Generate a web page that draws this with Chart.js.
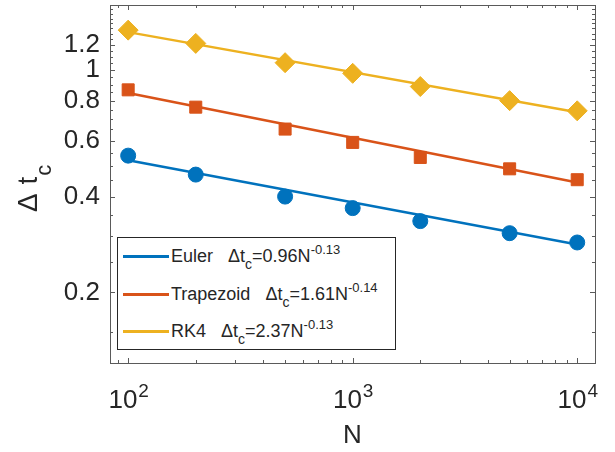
<!DOCTYPE html>
<html lang="en">
<head>
<meta charset="UTF-8">
<title>Delta t_c vs N</title>
<script src="https://cdn.jsdelivr.net/npm/chart.js"></script>
<style>
  body { margin: 0; background: #fff; font-family: "Liberation Sans", Arial, sans-serif; }
  #wrap { position: relative; width: 615px; height: 452px; }
  #chart { display: block; }
  #legend { position: absolute; left: 117px; top: 237px; width: 279px; height: 113px; border: 1px solid #262626; background: #fff; box-sizing: border-box; }
  .row { position: absolute; left: 0; height: 20px; display: flex; align-items: center; font-size: 18px; color: #262626; white-space: pre; }
  .swatch { display: inline-block; width: 46px; height: 3px; margin-left: 5px; margin-right: 2px; }
  .fit { margin-left: 6px; }
  .sub { font-size: 14px; position: relative; top: 7px; }
  .sup { font-size: 13px; position: relative; top: -8px; }
</style>
</head>
<body>
<div id="wrap">
  <canvas id="chart" width="615" height="452"></canvas>
  <div id="legend"></div>
</div>
<script>
// data
const N = [100, 200, 500, 1000, 2000, 5000, 10000];
const euler = [0.538, 0.469, 0.400, 0.368, 0.335, 0.307, 0.287];
const trapezoid = [0.866, 0.764, 0.652, 0.592, 0.531, 0.489, 0.452];
const rk4 = [1.334, 1.212, 1.054, 0.976, 0.887, 0.801, 0.744];

// fitted power-law lines (end points)
const fitN = [100, 10000];
const eulerFit = [0.52, 0.283];
const trapezoidFit = [0.847, 0.443];
const rk4Fit = [1.315, 0.736];

const names = ['Euler', 'Trapezoid', 'RK4'];
const fitCoef = ['0.96', '1.61', '2.37'];
const fitExp = ['-0.13', '-0.14', '-0.13'];
const colors = ['#0072BD', '#D95319', '#EDB120'];

const xMajor = [100, 1000, 10000];
const xExp = [2, 3, 4];
const xMinor = [90, 200, 300, 400, 500, 600, 700, 800, 900, 2000, 3000, 4000, 5000, 6000, 7000, 8000, 9000];
const yMajor = [0.2, 0.4, 0.6, 0.8, 1, 1.2];
const yMinor = [0.15, 0.25, 0.3, 0.35, 0.45, 0.5, 0.55, 0.65, 0.7, 0.75, 0.85, 0.9, 0.95,
                1.05, 1.1, 1.15, 1.25, 1.3, 1.35, 1.4, 1.45, 1.5, 1.55];

const FONT = '"Liberation Sans", Arial, sans-serif';
const TEXT = '#262626';

function pts(xs, ys) { return xs.map((x, i) => ({ x: x, y: ys[i] })); }

const markerSets = [euler, trapezoid, rk4];
const fitSets = [eulerFit, trapezoidFit, rk4Fit];
const styles = [
  { pointStyle: 'circle', radius: 7.5 },
  { pointStyle: 'rect', radius: 8.5 },
  { pointStyle: 'rectRot', radius: 10 }
];

const datasets = [];
for (let i = 0; i < 3; i++) {
  datasets.push({
    data: pts(fitN, fitSets[i]),
    borderColor: colors[i],
    borderWidth: 2.5,
    pointRadius: 0,
    showLine: true,
    order: 1
  });
  datasets.push({
    data: pts(N, markerSets[i]),
    showLine: false,
    pointStyle: styles[i].pointStyle,
    pointRadius: styles[i].radius,
    pointBackgroundColor: colors[i],
    pointBorderColor: colors[i],
    pointBorderWidth: 1,
    order: 0
  });
}

// box, inward ticks, superscript tick labels and axis titles
const axesBox = {
  id: 'axesBox',
  afterDraw(chart) {
    const ctx = chart.ctx;
    const a = chart.chartArea;
    const xs = chart.scales.x, ys = chart.scales.y;
    ctx.save();
    ctx.strokeStyle = '#5a5a5a';
    ctx.lineWidth = 1;
    ctx.strokeRect(Math.round(a.left) + 0.5, Math.round(a.top) + 0.5,
                   Math.round(a.right - a.left), Math.round(a.bottom - a.top));
    ctx.beginPath();
    const tick = (list, len) => {
      list.forEach(v => {
        const px = Math.round(xs.getPixelForValue(v)) + 0.5;
        ctx.moveTo(px, a.bottom); ctx.lineTo(px, a.bottom - len);
        ctx.moveTo(px, a.top); ctx.lineTo(px, a.top + len);
      });
    };
    const ytick = (list, len) => {
      list.forEach(v => {
        const py = Math.round(ys.getPixelForValue(v)) + 0.5;
        ctx.moveTo(a.left, py); ctx.lineTo(a.left + len, py);
        ctx.moveTo(a.right, py); ctx.lineTo(a.right - len, py);
      });
    };
    tick(xMajor, 5); tick(xMinor, 3);
    ytick(yMajor, 5); ytick(yMinor, 3);
    ctx.stroke();

    // x tick labels 10^n
    ctx.fillStyle = TEXT;
    ctx.textBaseline = 'alphabetic';
    ctx.textAlign = 'left';
    xMajor.forEach((v, i) => {
      const px = xs.getPixelForValue(v);
      ctx.font = '26px ' + FONT;
      const wb = ctx.measureText('10').width;
      ctx.font = '19px ' + FONT;
      const we = ctx.measureText(String(xExp[i])).width;
      const x0 = px - (wb + we) / 2;
      ctx.font = '26px ' + FONT;
      ctx.fillText('10', x0, 408);
      ctx.font = '19px ' + FONT;
      ctx.fillText(String(xExp[i]), x0 + wb + 1, 397);
    });

    // x title
    ctx.font = '26px ' + FONT;
    ctx.textAlign = 'center';
    ctx.fillText('N', (a.left + a.right) / 2, 443);

    // y title: Δ t_c
    ctx.translate(37, 212);
    ctx.rotate(-Math.PI / 2);
    ctx.textAlign = 'left';
    ctx.font = '28px ' + FONT;
    ctx.fillText('\u0394', 0, 0);
    let w = ctx.measureText('\u0394 ').width + 1;
    ctx.fillText('t', w, 0);
    w += ctx.measureText('t').width + 1;
    ctx.font = '22px ' + FONT;
    ctx.fillText('c', w, 14);
    ctx.restore();
  }
};

new Chart(document.getElementById('chart'), {
  type: 'line',
  data: { datasets: datasets },
  options: {
    responsive: false,
    animation: false,
    layout: { autoPadding: false, padding: { top: 5, right: 20, left: 0, bottom: 0 } },
    plugins: { legend: { display: false }, tooltip: { enabled: false } },
    scales: {
      x: {
        type: 'logarithmic',
        min: 83, max: 12000,
        grid: { display: false, drawTicks: false },
        border: { display: false },
        ticks: { callback: () => '' },
        afterBuildTicks: s => { s.ticks = xMajor.map(v => ({ value: v })); },
        afterFit: s => { s.height = 89; s.paddingLeft = 0; s.paddingRight = 0; }
      },
      y: {
        type: 'logarithmic',
        min: 0.12, max: 1.6,
        grid: { display: false, drawTicks: false },
        border: { display: false },
        ticks: {
          padding: 10,
          color: TEXT,
          font: { size: 26, family: FONT },
          callback: v => String(v)
        },
        afterBuildTicks: s => { s.ticks = yMajor.map(v => ({ value: v })); },
        afterFit: s => { s.width = 110; s.paddingTop = 0; s.paddingBottom = 0; }
      }
    }
  },
  plugins: [axesBox]
});

// legend with sub/superscripts
const legend = document.getElementById('legend');
const rowTops = [8, 46, 83];
names.forEach((name, i) => {
  const row = document.createElement('div');
  row.className = 'row';
  row.style.top = rowTops[i] + 'px';
  row.innerHTML = '<span class="swatch" style="background:' + colors[i] + '"></span>' +
    '<span>' + name + '</span><span class="fit">  \u0394t<span class="sub">c</span>=' +
    fitCoef[i] + 'N<span class="sup">' + fitExp[i] + '</span></span>';
  legend.appendChild(row);
});
</script>
</body>
</html>
